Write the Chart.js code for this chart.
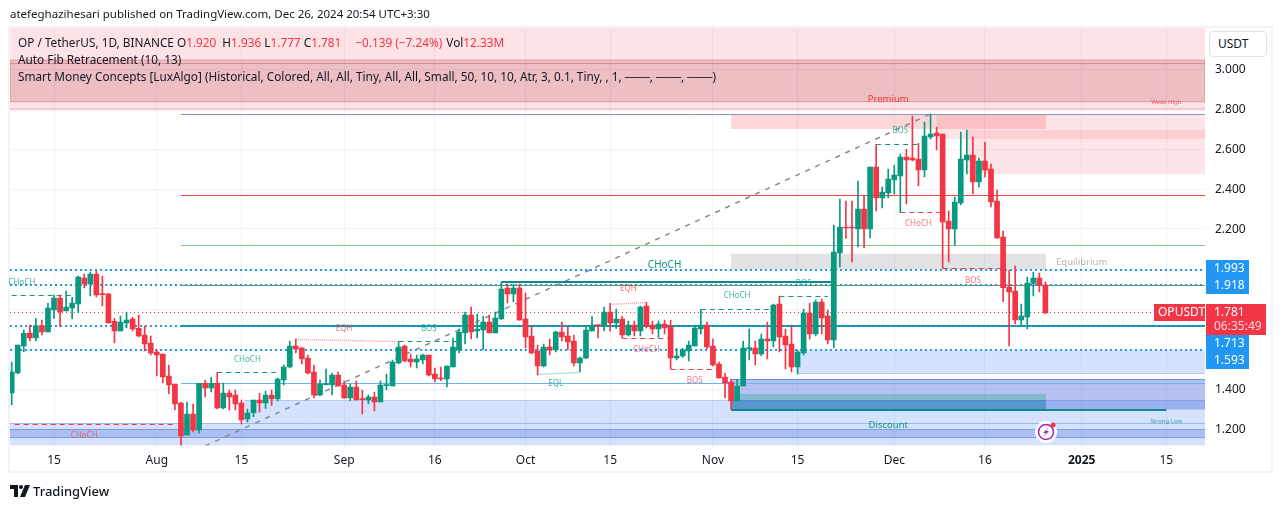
<!DOCTYPE html>
<html>
<head>
<meta charset="utf-8">
<script src="https://cdn.jsdelivr.net/npm/chart.js@4"></script>
<style>
  html, body { margin: 0; padding: 0; background: #fff; }
  #wrap { position: relative; width: 1281px; height: 509px; overflow: hidden; font-family: "Noto Sans", sans-serif; color: #131722; }
  canvas { position: absolute; left: 0; top: 0; }
  .t { position: absolute; white-space: pre; font-size: 11.8px; line-height: 16px; }
  .r { color: #f23645; }
  #usdt { position: absolute; left: 1209px; top: 31px; width: 48px; height: 24px; padding-left: 8px; border: 1px solid #e0e3eb; border-radius: 4px; background: #fff; font-size: 12px; line-height: 24px; }
</style>
</head>
<body>
<div id="wrap">
  <canvas id="chart" width="1281" height="509"></canvas>
  <div class="t" style="left:10px;top:6px;font-size:11.5px">atefeghazihesari published on TradingView.com, Dec 26, 2024 20:54 UTC+3:30</div>
  <div class="t" style="left:18px;top:34px">OP / TetherUS, 1D, BINANCE<span style="margin-left:3px">O</span><span class="r">1.920</span><span style="margin-left:6px">H</span><span class="r">1.936</span> L<span class="r">1.777</span> C<span class="r">1.781</span><span class="r" style="margin-left:14px">−0.139 (−7.24%)</span><span style="margin-left:4px">Vol</span><span class="r">12.33M</span></div>
  <div class="t" style="left:18px;top:51px">Auto Fib Retracement (10, 13)</div>
  <div class="t" style="left:18px;top:68px">Smart Money Concepts [LuxAlgo] (Historical, Colored, All, All, Tiny, All, All, Small, 50, 10, 10, Atr, 3, 0.1, Tiny, , 1, ───, ───, ───)</div>
  <div id="usdt">USDT</div>
  <svg style="position:absolute;left:10px;top:485px" width="20" height="12" viewBox="0 0 20 12">
    <path d="M0 0H8V12H4V4H0Z M15 0H20L15 12H10Z" fill="#131722"/><circle cx="11" cy="2" r="2" fill="#131722"/>
  </svg>
  <div class="t" style="left:33px;top:483px;font-size:13px;font-weight:500">TradingView</div>
</div>

<script>
// days are counted from 15 Jul 2024
var firstCandleDay = -7;
var candleOpen = [1.38,1.48,1.615,1.68,1.655,1.717,1.685,1.795,1.855,1.79,1.805,1.825,1.955,1.925,1.975,1.875,1.875,1.738,1.69,1.73,1.75,1.703,1.67,1.63,1.585,1.575,1.465,1.425,1.33,1.17,1.275,1.195,1.428,1.405,1.43,1.305,1.38,1.37,1.33,1.25,1.282,1.345,1.33,1.37,1.35,1.445,1.51,1.615,1.605,1.555,1.485,1.37,1.422,1.42,1.47,1.42,1.355,1.41,1.35,1.345,1.36,1.335,1.417,1.415,1.53,1.615,1.55,1.535,1.545,1.57,1.475,1.455,1.45,1.51,1.595,1.68,1.77,1.69,1.695,1.735,1.68,1.75,1.905,1.875,1.905,1.75,1.665,1.59,1.515,1.61,1.595,1.685,1.665,1.64,1.53,1.555,1.69,1.72,1.715,1.785,1.73,1.75,1.67,1.72,1.69,1.815,1.72,1.70,1.725,1.712,1.555,1.565,1.59,1.615,1.70,1.72,1.615,1.525,1.46,1.435,1.34,1.415,1.602,1.605,1.575,1.65,1.64,1.825,1.665,1.625,1.51,1.58,1.78,1.675,1.835,1.765,1.645,2.08,2.21,2.21,2.20,2.30,2.20,2.51,2.355,2.38,2.445,2.465,2.56,2.555,2.55,2.495,2.66,2.68,2.675,2.24,2.20,2.33,2.545,2.57,2.435,2.54,2.50,2.34,2.16,1.91,1.89,1.745,1.76,1.928,1.955,1.920];
var candleHigh = [1.535,1.62,1.695,1.72,1.753,1.745,1.828,1.87,1.87,1.89,1.858,1.965,1.975,1.985,1.99,1.965,1.878,1.753,1.765,1.785,1.758,1.77,1.715,1.665,1.595,1.575,1.52,1.425,1.335,1.335,1.325,1.428,1.445,1.458,1.483,1.43,1.395,1.395,1.345,1.30,1.345,1.378,1.39,1.395,1.455,1.52,1.64,1.65,1.608,1.57,1.52,1.445,1.50,1.48,1.485,1.44,1.425,1.44,1.395,1.37,1.385,1.44,1.475,1.545,1.637,1.62,1.575,1.57,1.575,1.57,1.505,1.51,1.515,1.655,1.70,1.785,1.81,1.775,1.765,1.77,1.785,1.935,1.925,1.925,1.925,1.88,1.715,1.62,1.625,1.65,1.69,1.735,1.715,1.67,1.56,1.715,1.762,1.72,1.81,1.828,1.80,1.765,1.74,1.74,1.815,1.833,1.74,1.74,1.745,1.745,1.603,1.603,1.64,1.72,1.798,1.735,1.65,1.535,1.478,1.45,1.448,1.64,1.70,1.64,1.675,1.735,1.825,1.865,1.70,1.72,1.595,1.80,1.83,1.845,1.85,1.795,2.22,2.35,2.34,2.34,2.44,2.365,2.51,2.623,2.41,2.50,2.52,2.575,2.598,2.765,2.628,2.735,2.775,2.71,2.675,2.29,2.36,2.685,2.695,2.66,2.555,2.635,2.525,2.395,2.19,1.995,2.015,1.825,1.96,1.985,1.98,1.936];
var candleLow = [1.32,1.475,1.587,1.64,1.64,1.67,1.685,1.753,1.712,1.79,1.75,1.782,1.905,1.865,1.86,1.815,1.73,1.63,1.69,1.705,1.69,1.66,1.59,1.57,1.465,1.43,1.375,1.295,1.115,1.17,1.185,1.18,1.36,1.385,1.30,1.30,1.295,1.295,1.225,1.235,1.262,1.285,1.303,1.318,1.34,1.42,1.505,1.58,1.525,1.475,1.355,1.365,1.42,1.37,1.415,1.353,1.342,1.345,1.275,1.325,1.29,1.335,1.395,1.415,1.525,1.535,1.51,1.505,1.525,1.465,1.435,1.442,1.41,1.51,1.58,1.625,1.65,1.655,1.595,1.682,1.68,1.748,1.83,1.835,1.743,1.605,1.575,1.47,1.51,1.57,1.585,1.64,1.595,1.515,1.485,1.552,1.69,1.655,1.69,1.69,1.703,1.655,1.665,1.665,1.665,1.705,1.675,1.658,1.675,1.50,1.545,1.558,1.54,1.615,1.675,1.60,1.515,1.455,1.355,1.298,1.34,1.415,1.545,1.52,1.565,1.55,1.61,1.585,1.50,1.485,1.475,1.57,1.65,1.665,1.675,1.625,1.605,2.01,2.153,2.035,2.11,2.105,2.155,2.29,2.305,2.355,2.375,2.283,2.325,2.54,2.415,2.46,2.65,2.595,2.003,2.035,2.12,2.32,2.475,2.375,2.41,2.46,2.31,2.153,1.837,1.615,1.725,1.715,1.70,1.865,1.885,1.777];
var candleClose = [1.485,1.62,1.678,1.655,1.717,1.685,1.805,1.855,1.785,1.81,1.83,1.96,1.925,1.975,1.87,1.872,1.73,1.69,1.735,1.745,1.70,1.665,1.625,1.58,1.57,1.46,1.42,1.325,1.165,1.275,1.195,1.428,1.405,1.428,1.305,1.38,1.36,1.325,1.245,1.28,1.345,1.33,1.37,1.35,1.45,1.51,1.615,1.60,1.55,1.48,1.37,1.425,1.425,1.47,1.415,1.355,1.41,1.345,1.347,1.36,1.335,1.42,1.42,1.535,1.61,1.54,1.535,1.55,1.57,1.47,1.45,1.45,1.515,1.61,1.685,1.77,1.685,1.70,1.735,1.68,1.755,1.90,1.875,1.905,1.745,1.66,1.58,1.515,1.61,1.595,1.685,1.66,1.635,1.53,1.555,1.695,1.72,1.717,1.785,1.73,1.75,1.67,1.72,1.69,1.81,1.715,1.70,1.725,1.705,1.555,1.565,1.595,1.62,1.705,1.72,1.61,1.52,1.455,1.43,1.34,1.415,1.605,1.605,1.575,1.65,1.64,1.82,1.66,1.62,1.51,1.585,1.78,1.675,1.835,1.755,1.645,2.085,2.21,2.205,2.205,2.30,2.20,2.51,2.355,2.385,2.45,2.47,2.56,2.545,2.545,2.495,2.665,2.675,2.665,2.235,2.20,2.335,2.55,2.57,2.435,2.54,2.495,2.335,2.155,1.907,1.885,1.745,1.765,1.93,1.955,1.918,1.781];

var tickDays = [0,17,31,48,63,78,92,109,123,139,154,170,184];
var tickLabels = ["15","Aug","15","Sep","16","Oct","15","Nov","15","Dec","16","2025","15"];
var priceTicks = [1.2,1.4,1.6,1.8,2.0,2.2,2.4,2.6,2.8,3.0];
var coveredTicks = [1.6,1.8,2.0];

var dayMin = -7.28, dayMax = 190.4;
var priceMin = 1.1175, priceMax = 3.205;
var lastPrice = 1.781;
var dottedLevels = [1.993,1.918,1.713,1.593];

// [dayFrom, dayTo, priceLow, priceHigh]
var premiumZone = [dayMin, dayMax, 2.79, 3.205];
var weakHighBand = [dayMin, dayMax, 2.8365, 3.045];
var supplyZones = [[112,164.1,2.70,2.77],[146,dayMax,2.65,2.77],[151,dayMax,2.475,2.695]];
var equilibriumZone = [112,164.1,2.00,2.0765];
var discountZones = [[dayMin,dayMax,priceMin,1.2285],[31.5,dayMax,1.2285,1.3435],[123,dayMax,1.4765,1.5935]];
var lowBand = [dayMin,dayMax,1.1575,1.195];
var orderBlock = [112,dayMax,1.2975,1.4485];
var orderBlockTeal = [112,164.1,1.2975,1.375];
var orderBlockBlue = [112,164.1,1.2975,1.345];

// fib lines start at day 21
var fibStart = 21;
var fibBlue = [2.773];
var fibRed = [2.37];
var fibGreen = [2.118];
var fibOlive = [1.918];
var fibTeal = [1.713];
var fibSky = [1.428];
var fibTrend = [25,1.115,145,2.775];

// [dayFrom, priceFrom, dayTo, priceTo]
var greenDashes = [[-7,1.87,3,1.87],[27,1.485,37,1.485],[57,1.64,67,1.64],[107,1.80,119,1.80],[120,1.865,128,1.865],[136,2.623,143,2.623]];
var redDashes = [[-6.5,1.225,20,1.225],[94,1.655,102,1.655],[102,1.50,110,1.50],[140,2.283,147,2.283],[147,2.003,157,2.003]];
var redDots = [[40,1.648,57,1.637],[92,1.823,98,1.832]];
var greenDots = [[80,1.473,87,1.483]];
var tealSolid = [[74,1.935,129,1.935],[112,1.2975,184,1.2975]];

// [text, day, price]
var greenTags = [["CHoCH",-5.3,1.93],["CHoCH",32,1.545],["BOS",62,1.70],["EQL",83,1.425],["CHoCH",113,1.865],["BOS",124,1.925],["BOS",140,2.69]];
var redTags = [["CHoCH",5,1.165],["EQH",48,1.70],["EQH",95,1.90],["CHoCH",98,1.595],["BOS",106,1.44],["CHoCH",143,2.225],["BOS",152,1.94]];

var ctx = document.getElementById("chart").getContext("2d");

function zone(c, z, fill, line) {
  var x = c.scales.x, y = c.scales.y;
  var x0 = x.getPixelForValue(z[0]), x1 = x.getPixelForValue(z[1]);
  var y0 = y.getPixelForValue(z[3]), y1 = y.getPixelForValue(z[2]);
  c.ctx.fillStyle = fill;
  c.ctx.fillRect(x0, y0, x1 - x0, y1 - y0);
  if (line) {
    c.ctx.strokeStyle = line;
    c.ctx.lineWidth = 1;
    c.ctx.setLineDash([]);
    c.ctx.strokeRect(x0, y0, x1 - x0, y1 - y0);
  }
}

function seg(c, s, color, width, dash) {
  var x = c.scales.x, y = c.scales.y, g = c.ctx;
  var y0 = y.getPixelForValue(s[1]), y1 = y.getPixelForValue(s[3]);
  // keep flat lines on whole pixels so they stay sharp
  if (s[1] === s[3]) {
    y0 = y1 = width === 1 ? Math.floor(y0) + 0.5 : Math.round(y0);
  }
  g.strokeStyle = color;
  g.lineWidth = width;
  g.setLineDash(dash || []);
  g.beginPath();
  g.moveTo(x.getPixelForValue(s[0]), y0);
  g.lineTo(x.getPixelForValue(s[2]), y1);
  g.stroke();
  g.setLineDash([]);
}

function tag(c, t, color, font) {
  var g = c.ctx;
  g.fillStyle = color;
  g.font = font;
  g.textAlign = "center";
  g.textBaseline = "middle";
  g.fillText(t[0], c.scales.x.getPixelForValue(t[1]), c.scales.y.getPixelForValue(t[2]));
}

function pill(g, x, y, w, h, fill) {
  g.fillStyle = fill;
  g.fillRect(x, y, w, h);
}

var overlay = {
  id: "overlay",
  beforeDraw: function (c) {
    var g = c.ctx;
    g.save();
    g.strokeStyle = "#f0f3fa";
    g.lineWidth = 2;
    g.strokeRect(9, 27, 1263, 445);
    g.restore();
  },
  beforeDatasetsDraw: function (c) {
    var g = c.ctx, a = c.chartArea;
    g.save();
    g.beginPath();
    g.rect(a.left, a.top, a.right - a.left, a.bottom - a.top);
    g.clip();

    zone(c, premiumZone, "rgba(242,54,69,0.14)");
    zone(c, weakHighBand, "rgba(170,40,50,0.2)", "rgba(170,40,50,0.3)");
    seg(c, [dayMin,3.0275,dayMax,3.0275], "rgba(170,40,50,0.3)", 1);
    seg(c, [dayMin,2.805,dayMax,2.805], "rgba(170,40,50,0.18)", 1);
    supplyZones.forEach(function (z) { zone(c, z, "rgba(242,54,69,0.13)"); });
    zone(c, supplyZones[0], "rgba(242,54,69,0.08)");
    zone(c, equilibriumZone, "rgba(120,123,134,0.22)");

    discountZones.forEach(function (z) { zone(c, z, "rgba(33,100,243,0.19)"); });
    seg(c, [dayMin,1.2285,dayMax,1.2285], "#9db8ee", 1);
    seg(c, [31.5,1.3435,dayMax,1.3435], "#b5caf3", 1);
    seg(c, [123,1.4765,dayMax,1.4765], "#b5caf3", 1);
    zone(c, lowBand, "rgba(40,80,215,0.24)");
    zone(c, orderBlock, "rgba(40,80,215,0.34)");
    seg(c, [dayMin,1.195,dayMax,1.195], "#7d9ce4", 1);
    seg(c, [dayMin,1.1575,dayMax,1.1575], "#7d9ce4", 1);
    seg(c, [112,1.4485,dayMax,1.4485], "#6d8fdd", 1);
    zone(c, orderBlockTeal, "rgba(8,153,129,0.28)");
    zone(c, orderBlockBlue, "rgba(33,110,200,0.3)");

    fibBlue.forEach(function (p) { seg(c, [fibStart,p,dayMax,p], "#8593c7", 1); });
    fibRed.forEach(function (p) { seg(c, [fibStart,p,dayMax,p], "#e5483f", 1); });
    fibGreen.forEach(function (p) { seg(c, [fibStart,p,dayMax,p], "#84c78a", 1); });
    fibOlive.forEach(function (p) { seg(c, [fibStart,p,dayMax,p], "#6b9b37", 1); });
    fibTeal.forEach(function (p) { seg(c, [fibStart,p,dayMax,p], "#0b9a8d", 2); });
    fibSky.forEach(function (p) { seg(c, [fibStart,p,dayMax,p], "#64b5f6", 1); });
    seg(c, fibTrend, "#868993", 1.5, [5, 6]);

    dottedLevels.forEach(function (p) { seg(c, [dayMin,p,dayMax,p], "#2196f3", 2, [2, 3]); });
    seg(c, [dayMin,lastPrice,dayMax,lastPrice], "#f23645", 1, [1, 3]);

    greenDashes.forEach(function (s) { seg(c, s, "#089981", 1, [5, 4]); });
    redDashes.forEach(function (s) { seg(c, s, "#f23645", 1, [5, 4]); });
    redDots.forEach(function (s) { seg(c, s, "rgba(242,54,69,0.5)", 1.5, [1, 1]); });
    greenDots.forEach(function (s) { seg(c, s, "rgba(8,153,129,0.55)", 1.5, [1, 1]); });
    tealSolid.forEach(function (s) { seg(c, s, "#0a8a8a", 2); });
    g.restore();
  },
  afterDatasetsDraw: function (c) {
    var g = c.ctx;
    g.save();
    var small = '8px "Noto Sans"';
    greenTags.forEach(function (t) { tag(c, t, "rgba(8,153,129,0.75)", small); });
    redTags.forEach(function (t) { tag(c, t, "rgba(242,54,69,0.7)", small); });
    tag(c, ["CHoCH",101,2.02], "#089981", '10px "Noto Sans"');
    tag(c, ["Premium",138,2.85], "#f23645", '9.5px "Noto Sans"');
    tag(c, ["Equilibrium",170,2.035], "#b2b5be", '9.5px "Noto Sans"');
    tag(c, ["Discount",138,1.22], "#089981", '9.5px "Noto Sans"');
    tag(c, ["Weak High",184,2.835], "rgba(242,54,69,0.8)", '6px "Noto Sans"');
    tag(c, ["Strong Low",184,1.24], "rgba(8,153,129,0.8)", '6px "Noto Sans"');

    // bolt badge on the last candle's column
    var bx = c.scales.x.getPixelForValue(164.1), by = c.scales.y.getPixelForValue(1.185);
    g.fillStyle = "#fff";
    g.beginPath(); g.arc(bx, by, 11, 0, 7); g.fill();
    g.strokeStyle = "#9c27b0"; g.lineWidth = 1.5;
    g.beginPath(); g.arc(bx, by, 7.5, 0, 7); g.stroke();
    g.fillStyle = "#9c27b0";
    g.beginPath();
    g.moveTo(bx + 3, by - 5); g.lineTo(bx - 3, by + 1); g.lineTo(bx, by + 1);
    g.lineTo(bx - 3, by + 5); g.lineTo(bx + 3, by - 1); g.lineTo(bx, by - 1);
    g.closePath(); g.fill();
    g.fillStyle = "#f23645";
    g.beginPath(); g.arc(bx + 7, by - 7, 2.5, 0, 7); g.fill();

    // price scale labels
    pill(g, 1206, 260, 43, 34, "#2196f3");
    pill(g, 1206, 335, 43, 34, "#2196f3");
    pill(g, 1154, 304, 51, 17, "#f23645");
    pill(g, 1206, 304, 60, 31, "#f23645");
    g.fillStyle = "#fff";
    g.font = '12px "Noto Sans"';
    g.textAlign = "left";
    g.textBaseline = "middle";
    g.fillText(dottedLevels[0].toFixed(3), 1214, 269);
    g.fillText(dottedLevels[1].toFixed(3), 1214, 286);
    g.fillText(dottedLevels[2].toFixed(3), 1214, 344);
    g.fillText(dottedLevels[3].toFixed(3), 1214, 361);
    g.fillText("OPUSDT", 1158, 313);
    g.fillText(lastPrice.toFixed(3), 1214, 313);
    g.fillStyle = "rgba(255,255,255,0.8)";
    g.fillText("06:35:49", 1214, 327);
    g.restore();
  }
};

var candleDays = candleOpen.map(function (v, i) { return firstCandleDay + i; });
var candleColors = candleOpen.map(function (v, i) { return candleClose[i] >= v ? "#089981" : "#f23645"; });

var chartGraph = new Chart(ctx, {
  type: "bar",
  data: {
    datasets: [{
      label: "Body",
      data: candleDays.map(function (d, i) { return { x: d, y: [candleOpen[i], candleClose[i]] }; }),
      backgroundColor: candleColors,
      barThickness: 5,
      minBarLength: 1,
      grouped: false
    }, {
      label: "Wick",
      data: candleDays.map(function (d, i) { return { x: d, y: [candleLow[i], candleHigh[i]] }; }),
      backgroundColor: candleColors,
      barThickness: 1,
      grouped: false
    }]
  },
  plugins: [overlay],
  options: {
    responsive: false,
    animation: false,
    events: [],
    layout: { padding: { left: 10, right: 11, top: 28, bottom: 38 } },
    plugins: { legend: { display: false }, tooltip: { enabled: false } },
    scales: {
      x: {
        type: "linear",
        offset: false,
        min: dayMin,
        max: dayMax,
        afterBuildTicks: function (s) { s.ticks = tickDays.map(function (d) { return { value: d }; }); },
        afterFit: function (s) { s.height = 25.5; },
        grid: { color: "#f0f3fa", drawTicks: false, offset: false },
        border: { display: false },
        ticks: {
          autoSkip: false,
          maxRotation: 0,
          padding: 8,
          color: "#131722",
          font: function (t) {
            var bold = t.tick && t.tick.value === 170;
            return { family: "Noto Sans", size: 12, weight: bold ? "bold" : "normal" };
          },
          callback: function (v) { return tickLabels[tickDays.indexOf(v)]; }
        }
      },
      y: {
        position: "right",
        min: priceMin,
        max: priceMax,
        afterBuildTicks: function (s) { s.ticks = priceTicks.map(function (p) { return { value: p }; }); },
        afterFit: function (s) { s.width = 65; },
        grid: { color: "#f0f3fa", drawTicks: false },
        border: { display: false },
        ticks: {
          padding: 10,
          labelOffset: 1,
          color: "#131722",
          font: { family: "Noto Sans", size: 12 },
          callback: function (v) { return coveredTicks.indexOf(v) >= 0 ? "" : v.toFixed(3); }
        }
      }
    }
  }
});
</script>
</body>
</html>
